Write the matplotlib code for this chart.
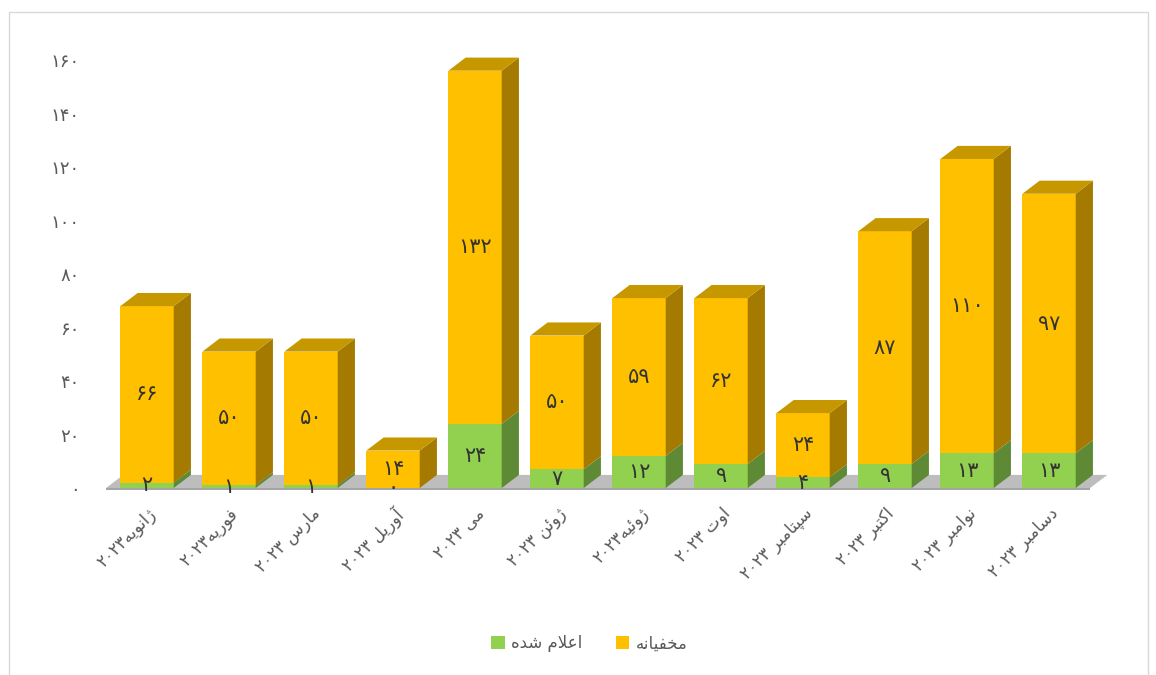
import matplotlib.pyplot as plt
from matplotlib.patches import Rectangle, Polygon, Patch

# monthly counts
months = ["ژانویه", "فوریه", "مارس", "آوریل", "می", "ژوئن",
          "ژوئیه", "اوت", "سپتامبر", "اکتبر", "نوامبر", "دسامبر"]
month_gap = [False, False, True, True, True, True, False, True, True, True, True, True]
year = "2023"
announced = [2, 1, 1, 0, 24, 7, 12, 9, 4, 9, 13, 13]
hidden = [66, 50, 50, 14, 132, 50, 59, 62, 24, 87, 110, 97]
yticks = [0, 20, 40, 60, 80, 100, 120, 140, 160]
label_announced = "اعلام شده"
label_hidden = "مخفیانه"

GREEN, GREEN_SIDE, GREEN_TOP = "#92D050", "#5E8A35", "#76A83F"
YELLOW, YELLOW_SIDE, YELLOW_TOP = "#FFC000", "#A47B00", "#C79700"

# --- minimal arabic/persian shaping (matplotlib has no bidi) ---
FORMS = {
    "ا": (0xFE8D, 0xFE8E, None, None), "آ": (0xFE81, 0xFE82, None, None),
    "ب": (0xFE8F, 0xFE90, 0xFE91, 0xFE92), "پ": (0xFB56, 0xFB57, 0xFB58, 0xFB59),
    "ت": (0xFE95, 0xFE96, 0xFE97, 0xFE98), "خ": (0xFEA5, 0xFEA6, 0xFEA7, 0xFEA8),
    "د": (0xFEA9, 0xFEAA, None, None), "ر": (0xFEAD, 0xFEAE, None, None),
    "ژ": (0xFB8A, 0xFB8B, None, None), "س": (0xFEB1, 0xFEB2, 0xFEB3, 0xFEB4),
    "ش": (0xFEB5, 0xFEB6, 0xFEB7, 0xFEB8), "ع": (0xFEC9, 0xFECA, 0xFECB, 0xFECC),
    "ف": (0xFED1, 0xFED2, 0xFED3, 0xFED4), "ک": (0xFB8E, 0xFB8F, 0xFB90, 0xFB91),
    "ل": (0xFEDD, 0xFEDE, 0xFEDF, 0xFEE0), "م": (0xFEE1, 0xFEE2, 0xFEE3, 0xFEE4),
    "ن": (0xFEE5, 0xFEE6, 0xFEE7, 0xFEE8), "ه": (0xFEE9, 0xFEEA, 0xFEEB, 0xFEEC),
    "و": (0xFEED, 0xFEEE, None, None), "ی": (0xFBFC, 0xFBFD, 0xFBFE, 0xFBFF),
    "ئ": (0xFE89, 0xFE8A, 0xFE8B, 0xFE8C),
}


def joins_next(c):
    return c in FORMS and FORMS[c][2] is not None


def shape(text):
    out = []
    i = 0
    while i < len(text):
        c = text[i]
        prev = text[i - 1] if i > 0 else ""
        nxt = text[i + 1] if i + 1 < len(text) else ""
        if c not in FORMS:
            out.append(c)
            i += 1
            continue
        p = joins_next(prev)
        if c == "ل" and nxt == "ا":
            out.append(chr(0xFEFC if p else 0xFEFB))
            i += 2
            continue
        n = joins_next(c) and nxt in FORMS
        isol, fina, init, medi = FORMS[c]
        if p and n:
            out.append(chr(medi))
        elif p:
            out.append(chr(fina))
        elif n:
            out.append(chr(init))
        else:
            out.append(chr(isol))
        i += 1
    return "".join(out[::-1])


def fa_digits(v):
    return str(v).translate(str.maketrans("0123456789", "۰۱۲۳۴۵۶۷۸۹"))


plt.rcParams["font.family"] = ["DejaVu Sans"]

fig = plt.figure(figsize=(11.56, 6.75), dpi=100)
ax = fig.add_axes([0.0811, 0.2770, 0.8867, 0.6341])
ax.set_xlim(-0.65, 11.85)
ax.set_ylim(0, 160)

w = 0.65
dx = 0.21
dy = 4.9

# floor
xl, xr = -0.5, len(months) - 0.5
ax.add_patch(Polygon([(xl, 0), (xl + dx, dy), (xr + dx, dy), (xr, 0)],
                     closed=True, facecolor="#bdbdbd", edgecolor="none", zorder=1))
ax.add_patch(Polygon([(xl, 0), (xr, 0), (xr, -0.6), (xl, -0.6)],
                     closed=True, facecolor="#a5a5a5", edgecolor="none", zorder=1, clip_on=False))

for i in range(len(months)):
    segs = [(0, announced[i], GREEN, GREEN_SIDE, GREEN_TOP),
            (announced[i], hidden[i], YELLOW, YELLOW_SIDE, YELLOW_TOP)]
    top_total = announced[i] + hidden[i]
    for b, h, cf, cs, ct in segs:
        if h > 0:
            ax.add_patch(Rectangle((i - w / 2, b), w, h, facecolor=cf,
                                   edgecolor="none", zorder=2, clip_on=False))
            ax.add_patch(Polygon([(i + w / 2, b), (i + w / 2 + dx, b + dy),
                                  (i + w / 2 + dx, b + h + dy), (i + w / 2, b + h)],
                                 closed=True, facecolor=cs, edgecolor="none",
                                 zorder=2, clip_on=False))
        ax.text(i, b + h / 2, fa_digits(h), ha="center", va="center",
                fontsize=15, color="#333333", zorder=4)
    ax.add_patch(Polygon([(i - w / 2, top_total), (i - w / 2 + dx, top_total + dy),
                          (i + w / 2 + dx, top_total + dy), (i + w / 2, top_total)],
                         closed=True, facecolor=YELLOW_TOP, edgecolor="none",
                         zorder=3, clip_on=False))

labels = []
for m, gap in zip(months, month_gap):
    labels.append(fa_digits(year) + (" " if gap else "") + shape(m))

ax.set_xticks(range(len(months)))
ax.set_xticklabels(labels, rotation=45, ha="right", va="top",
                   rotation_mode="anchor", fontsize=12, color="#595959")
ax.set_yticks(yticks)
ax.set_yticklabels([fa_digits(v) for v in yticks], fontsize=13, color="#595959")
ax.tick_params(axis="both", length=0)
ax.tick_params(axis="x", pad=12)
ax.tick_params(axis="y", pad=10)
for s in ax.spines.values():
    s.set_visible(False)

handles = [Patch(facecolor=GREEN, label=shape(label_announced)),
           Patch(facecolor=YELLOW, label=shape(label_hidden))]
fig.legend(handles=handles, loc="center", bbox_to_anchor=(0.51, 0.047), ncol=2,
           frameon=False, fontsize=12, labelcolor="#595959",
           handlelength=0.8, handleheight=0.8, columnspacing=2.0, handletextpad=0.4)

# chart border
fig.add_artist(Rectangle((9 / 1156, -0.05), 1139 / 1156, 1.05 - 12 / 675,
                         transform=fig.transFigure, facecolor="none",
                         edgecolor="#d9d9d9", linewidth=1))

fig.savefig("out.png", dpi=100)
